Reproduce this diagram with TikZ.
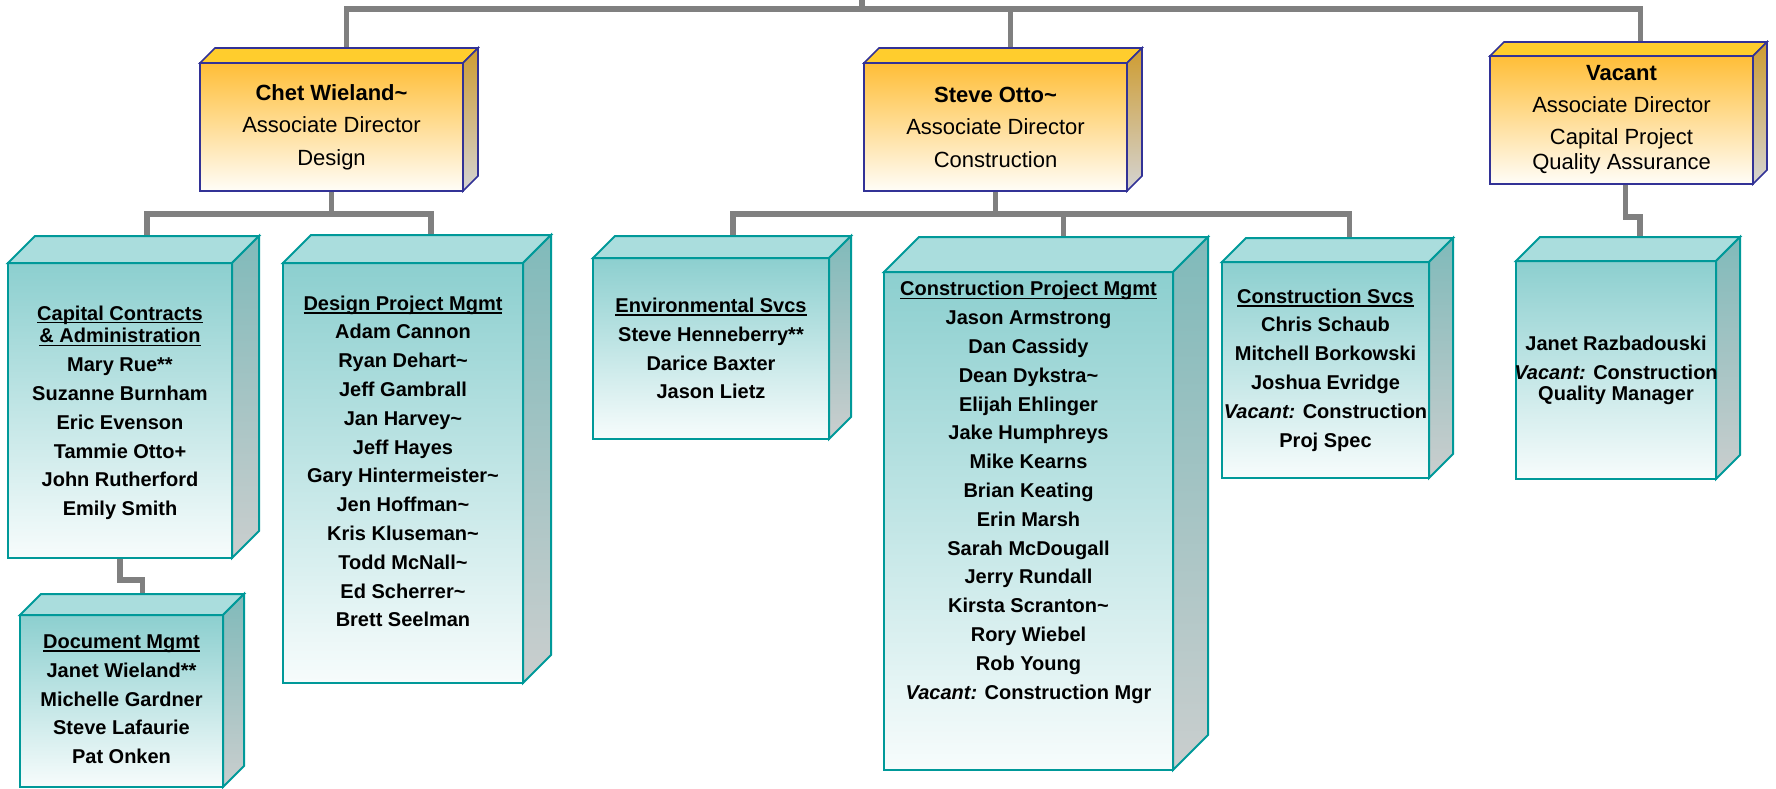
\documentclass[tikz,border=0pt]{standalone}
\usepackage{fontspec}
\setmainfont{Liberation Sans}
\usetikzlibrary{calc}
\pgfdeclarelayer{bg}
\pgfsetlayers{bg,main}
\definecolor{goldA}{RGB}{255,190,55}
\definecolor{goldB}{RGB}{255,253,248}
\definecolor{goldTop}{RGB}{255,205,45}
\definecolor{goldSideA}{RGB}{206,156,48}
\definecolor{goldSideB}{RGB}{212,212,212}
\definecolor{goldLine}{RGB}{50,50,150}
\definecolor{tealA}{RGB}{140,207,207}
\definecolor{tealB}{RGB}{247,252,252}
\definecolor{tealTop}{RGB}{170,221,221}
\definecolor{tealSideA}{RGB}{128,186,186}
\definecolor{tealSideB}{RGB}{202,206,206}
\definecolor{tealLine}{RGB}{0,153,153}
\definecolor{connC}{RGB}{128,128,128}
\newcommand\tld{\textasciitilde}
\newcommand\ulh[1]{\setbox0\hbox{#1}\rlap{\rule[-1.7pt]{\wd0}{0.8pt}}\box0}
\tikzset{
  conn/.style={draw=connC, line width=2.75pt},
  goldfront/.style={draw=goldLine, line width=0.8pt, top color=goldA, bottom color=goldB,
    inner sep=0pt, outer sep=0pt, align=center, font=\fontsize{11}{16.25}\selectfont},
  goldtop/.style={draw=goldLine, line width=0.8pt, fill=goldTop},
  goldside/.style={draw=goldLine, line width=0.8pt, top color=goldSideA, bottom color=goldSideB},
  tealfront/.style={draw=tealLine, line width=1pt, top color=tealA, bottom color=tealB,
    inner sep=0pt, outer sep=0pt},
  tealtop/.style={draw=tealLine, line width=1pt, fill=tealTop},
  tealside/.style={draw=tealLine, line width=1pt, top color=tealSideA, bottom color=tealSideB},
  names/.style={align=center, inner sep=0pt, font=\fontsize{10}{14.4}\selectfont\bfseries},
}
% name, x1, y1, x2, y2, depth, kind, text
\newcommand\cubebox[8]{%
  \node[#7front, minimum width={(#4-#2)*0.5pt}, minimum height={(#5-#3)*0.5pt}]
    (#1) at ({(#2+#4)/2},{(#3+#5)/2}) {#8};
  \path[#7top] (#1.north west) -- ++(#6,-#6) -- ($(#1.north east)+(#6,-#6)$)
    -- (#1.north east) -- cycle;
  \path[#7side] (#1.north east) -- ++(#6,-#6) -- ($(#1.south east)+(#6,-#6)$)
    -- (#1.south east) -- cycle;
  \coordinate (#1-top) at ($(#1.north)+(#6,-#6)$);
}
\begin{document}
\begin{tikzpicture}[x=0.5pt,y=-0.5pt]
\useasboundingbox (0,0) rectangle (1776,788);

\cubebox{chet}{200}{63}{463}{191}{15}{gold}{\textbf{Chet Wieland\tld}\\Associate Director\\Design}
\cubebox{steve}{864}{63}{1127}{191}{15}{gold}{\textbf{Steve Otto\tld}\\Associate Director\\Construction}
\cubebox{vac}{1490}{56}{1753}{184}{14}{gold}{\textbf{Vacant}\\[-0.5pt]Associate Director\\Capital Project\\[-3.75pt]Quality Assurance}

\cubebox{cap}{8}{263}{232}{558}{27}{teal}{}
\node[names] (capT) at (120,412.7) {\ulh{Capital Contracts}\\[-3pt]\ulh{\& Administration}\\Mary Rue**\\Suzanne Burnham\\Eric Evenson\\Tammie Otto+\\John Rutherford\\Emily Smith};

\cubebox{des}{283}{263}{523}{683}{28}{teal}{}
\node[names] (desT) at (403,461.4) {\ulh{Design Project Mgmt}\\Adam Cannon\\Ryan Dehart\tld\\Jeff Gambrall\\Jan Harvey\tld\\Jeff Hayes\\Gary Hintermeister\tld\\Jen Hoffman\tld\\Kris Kluseman\tld\\Todd McNall\tld\\Ed Scherrer\tld\\Brett Seelman};

\cubebox{doc}{20}{615}{223}{787}{21}{teal}{}
\node[names] (docT) at (121.5,699.4) {\ulh{Document Mgmt}\\Janet Wieland**\\Michelle Gardner\\Steve Lafaurie\\Pat Onken};

\cubebox{env}{593}{258}{829}{439}{22}{teal}{}
\node[names] (envT) at (711,348.5) {\ulh{Environmental Svcs}\\Steve Henneberry**\\Darice Baxter\\Jason Lietz};

\cubebox{cpm}{884}{272}{1173}{770}{35}{teal}{}
\node[names] (cpmT) at (1028.5,492.4) {\ulh{Construction Project Mgmt}\\Jason Armstrong\\Dan Cassidy\\Dean Dykstra\tld\\Elijah Ehlinger\\Jake Humphreys\\Mike Kearns\\Brian Keating\\Erin Marsh\\Sarah McDougall\\Jerry Rundall\\Kirsta Scranton\tld\\Rory Wiebel\\Rob Young\\\textit{Vacant:} Construction Mgr};

\cubebox{cs}{1222}{262}{1429}{478}{24}{teal}{}
\node[names] (csT) at (1325.5,370) {\ulh{Construction Svcs}\\Chris Schaub\\Mitchell Borkowski\\Joshua Evridge\\\textit{Vacant:} Construction\\Proj Spec};

\cubebox{jr}{1516}{261}{1716}{479}{24}{teal}{}
\node[names] (jrT) at (1616,370.4) {Janet Razbadouski\\\textit{Vacant:} Construction\\[-3.5pt]Quality Manager};

\coordinate (root) at (862,-10);
\coordinate (bus) at (862,9);
\coordinate (lvA) at (0,214);
\coordinate (vacT) at ($(vac-top)+(5,0)$);
\coordinate (vacB) at ($(vac.south)+(4,0)$);
\begin{pgfonlayer}{bg}
\draw[conn] (root) -- (bus);
\draw[conn] (chet-top) |- (bus) -| (vacT);
\draw[conn] (steve-top) -- (steve-top |- bus);
\draw[conn] (chet.south) -- (chet.south |- lvA);
\draw[conn] (cap-top) |- (chet.south |- lvA) -| (des-top);
\draw[conn] (steve.south) -- (steve.south |- lvA);
\draw[conn] (env-top) |- (steve.south |- lvA) -| (cs-top);
\draw[conn] (cpm-top) -- (cpm-top |- lvA);
\draw[conn] (vacB) -- ++(0,33) -| (jr-top);
\draw[conn] (cap.south) -- ++(0,22) -| (doc-top);
\end{pgfonlayer}
\end{tikzpicture}
\end{document}
